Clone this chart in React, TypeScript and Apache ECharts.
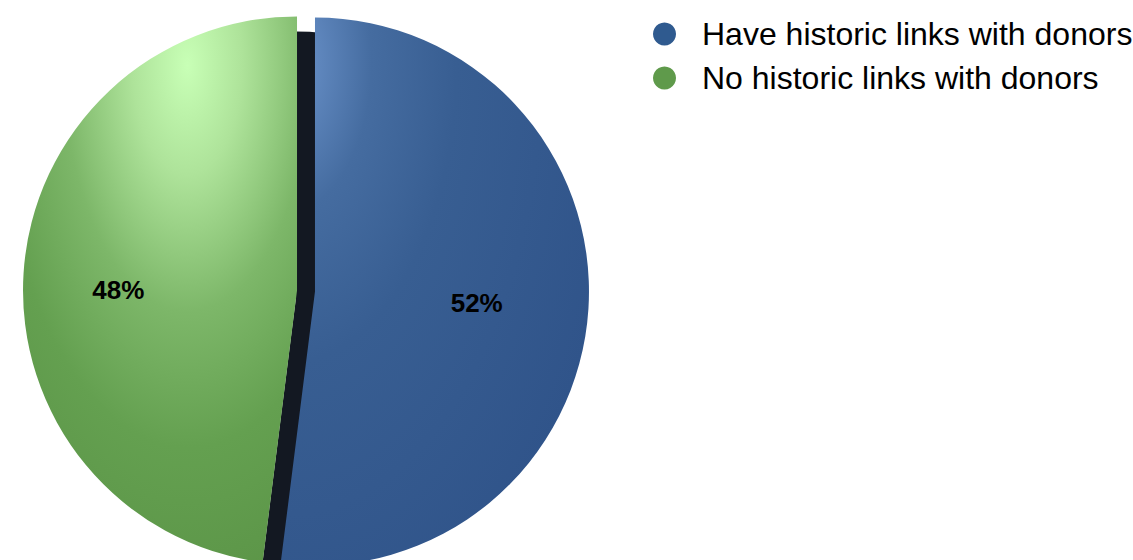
import React, { useEffect, useRef } from "react";
import * as echarts from "echarts";

const categories = ["Have historic links with donors", "No historic links with donors"];
const values = [52, 48];
const swatchColors = ["#2f5a8f", "#5f9a4b"];

export default function App() {
  const ref = useRef<HTMLDivElement>(null);
  useEffect(() => {
    if (!ref.current) return;
    const chart = echarts.init(ref.current, undefined, { renderer: "svg" });
    const gradients = [
      {
        type: "radial", x: 0.02, y: 0.08, r: 1.1,
        colorStops: [
          { offset: 0, color: "#6e96ce" },
          { offset: 0.25, color: "#456ca0" },
          { offset: 0.5, color: "#385e92" },
          { offset: 1, color: "#30548a" },
        ],
      },
      {
        type: "radial", x: 0.6, y: 0.09, r: 1.0,
        colorStops: [
          { offset: 0, color: "#c8ffb6" },
          { offset: 0.2, color: "#aee39a" },
          { offset: 0.45, color: "#7db769" },
          { offset: 0.7, color: "#64a050" },
          { offset: 1, color: "#5b9447" },
        ],
      },
    ];
    const labelShift = [
      [22, 3],
      [-39, 8],
    ];
    chart.setOption({
      animation: false,
      legend: {
        orient: "vertical",
        left: 653,
        top: 18,
        padding: 0,
        icon: "circle",
        itemWidth: 23,
        itemHeight: 23,
        itemGap: 12,
        selectedMode: false,
        data: categories.map((c, i) => ({ name: c, itemStyle: { color: swatchColors[i] } })),
        textStyle: {
          fontFamily: "Liberation Sans, Arial, sans-serif",
          fontSize: 32,
          color: "#000",
          padding: [0, 0, 0, 21],
          lineHeight: 31,
        },
      },
      series: [
        {
          type: "pie",
          silent: true,
          center: [287, 297],
          radius: 266,
          startAngle: 90,
          clockwise: true,
          selectedMode: "multiple",
          selectedOffset: 9,
          label: { show: false },
          labelLine: { show: false },
          z: 1,
          data: values.map((v, i) => ({
            name: "shadow" + i,
            value: v,
            selected: true,
            itemStyle: { color: i === 0 ? "#131822" : "rgba(0,0,0,0)" },
          })),
        },
        {
          type: "pie",
          silent: true,
          center: [306, 291],
          radius: 274,
          startAngle: 90,
          clockwise: true,
          selectedMode: "multiple",
          selectedOffset: 9,
          z: 2,
          label: {
            show: true,
            position: "inside",
            formatter: "{d}%",
            fontFamily: "Liberation Sans, Arial, sans-serif",
            fontWeight: "bold",
            fontSize: 26,
            color: "#000",
          },
          labelLayout: (p: any) => ({ dx: labelShift[p.dataIndex][0], dy: labelShift[p.dataIndex][1] }),
          labelLine: { show: false },
          emphasis: { disabled: true },
          data: values.map((v, i) => ({
            name: categories[i],
            value: v,
            selected: true,
            itemStyle: { color: gradients[i] },
          })),
        },
      ],
      color: swatchColors,
    });
    return () => chart.dispose();
  }, []);
  return (
    <div
      ref={ref}
      style={{ position: "fixed", left: 0, top: 0, width: 1133, height: 560, background: "#fff" }}
    />
  );
}
